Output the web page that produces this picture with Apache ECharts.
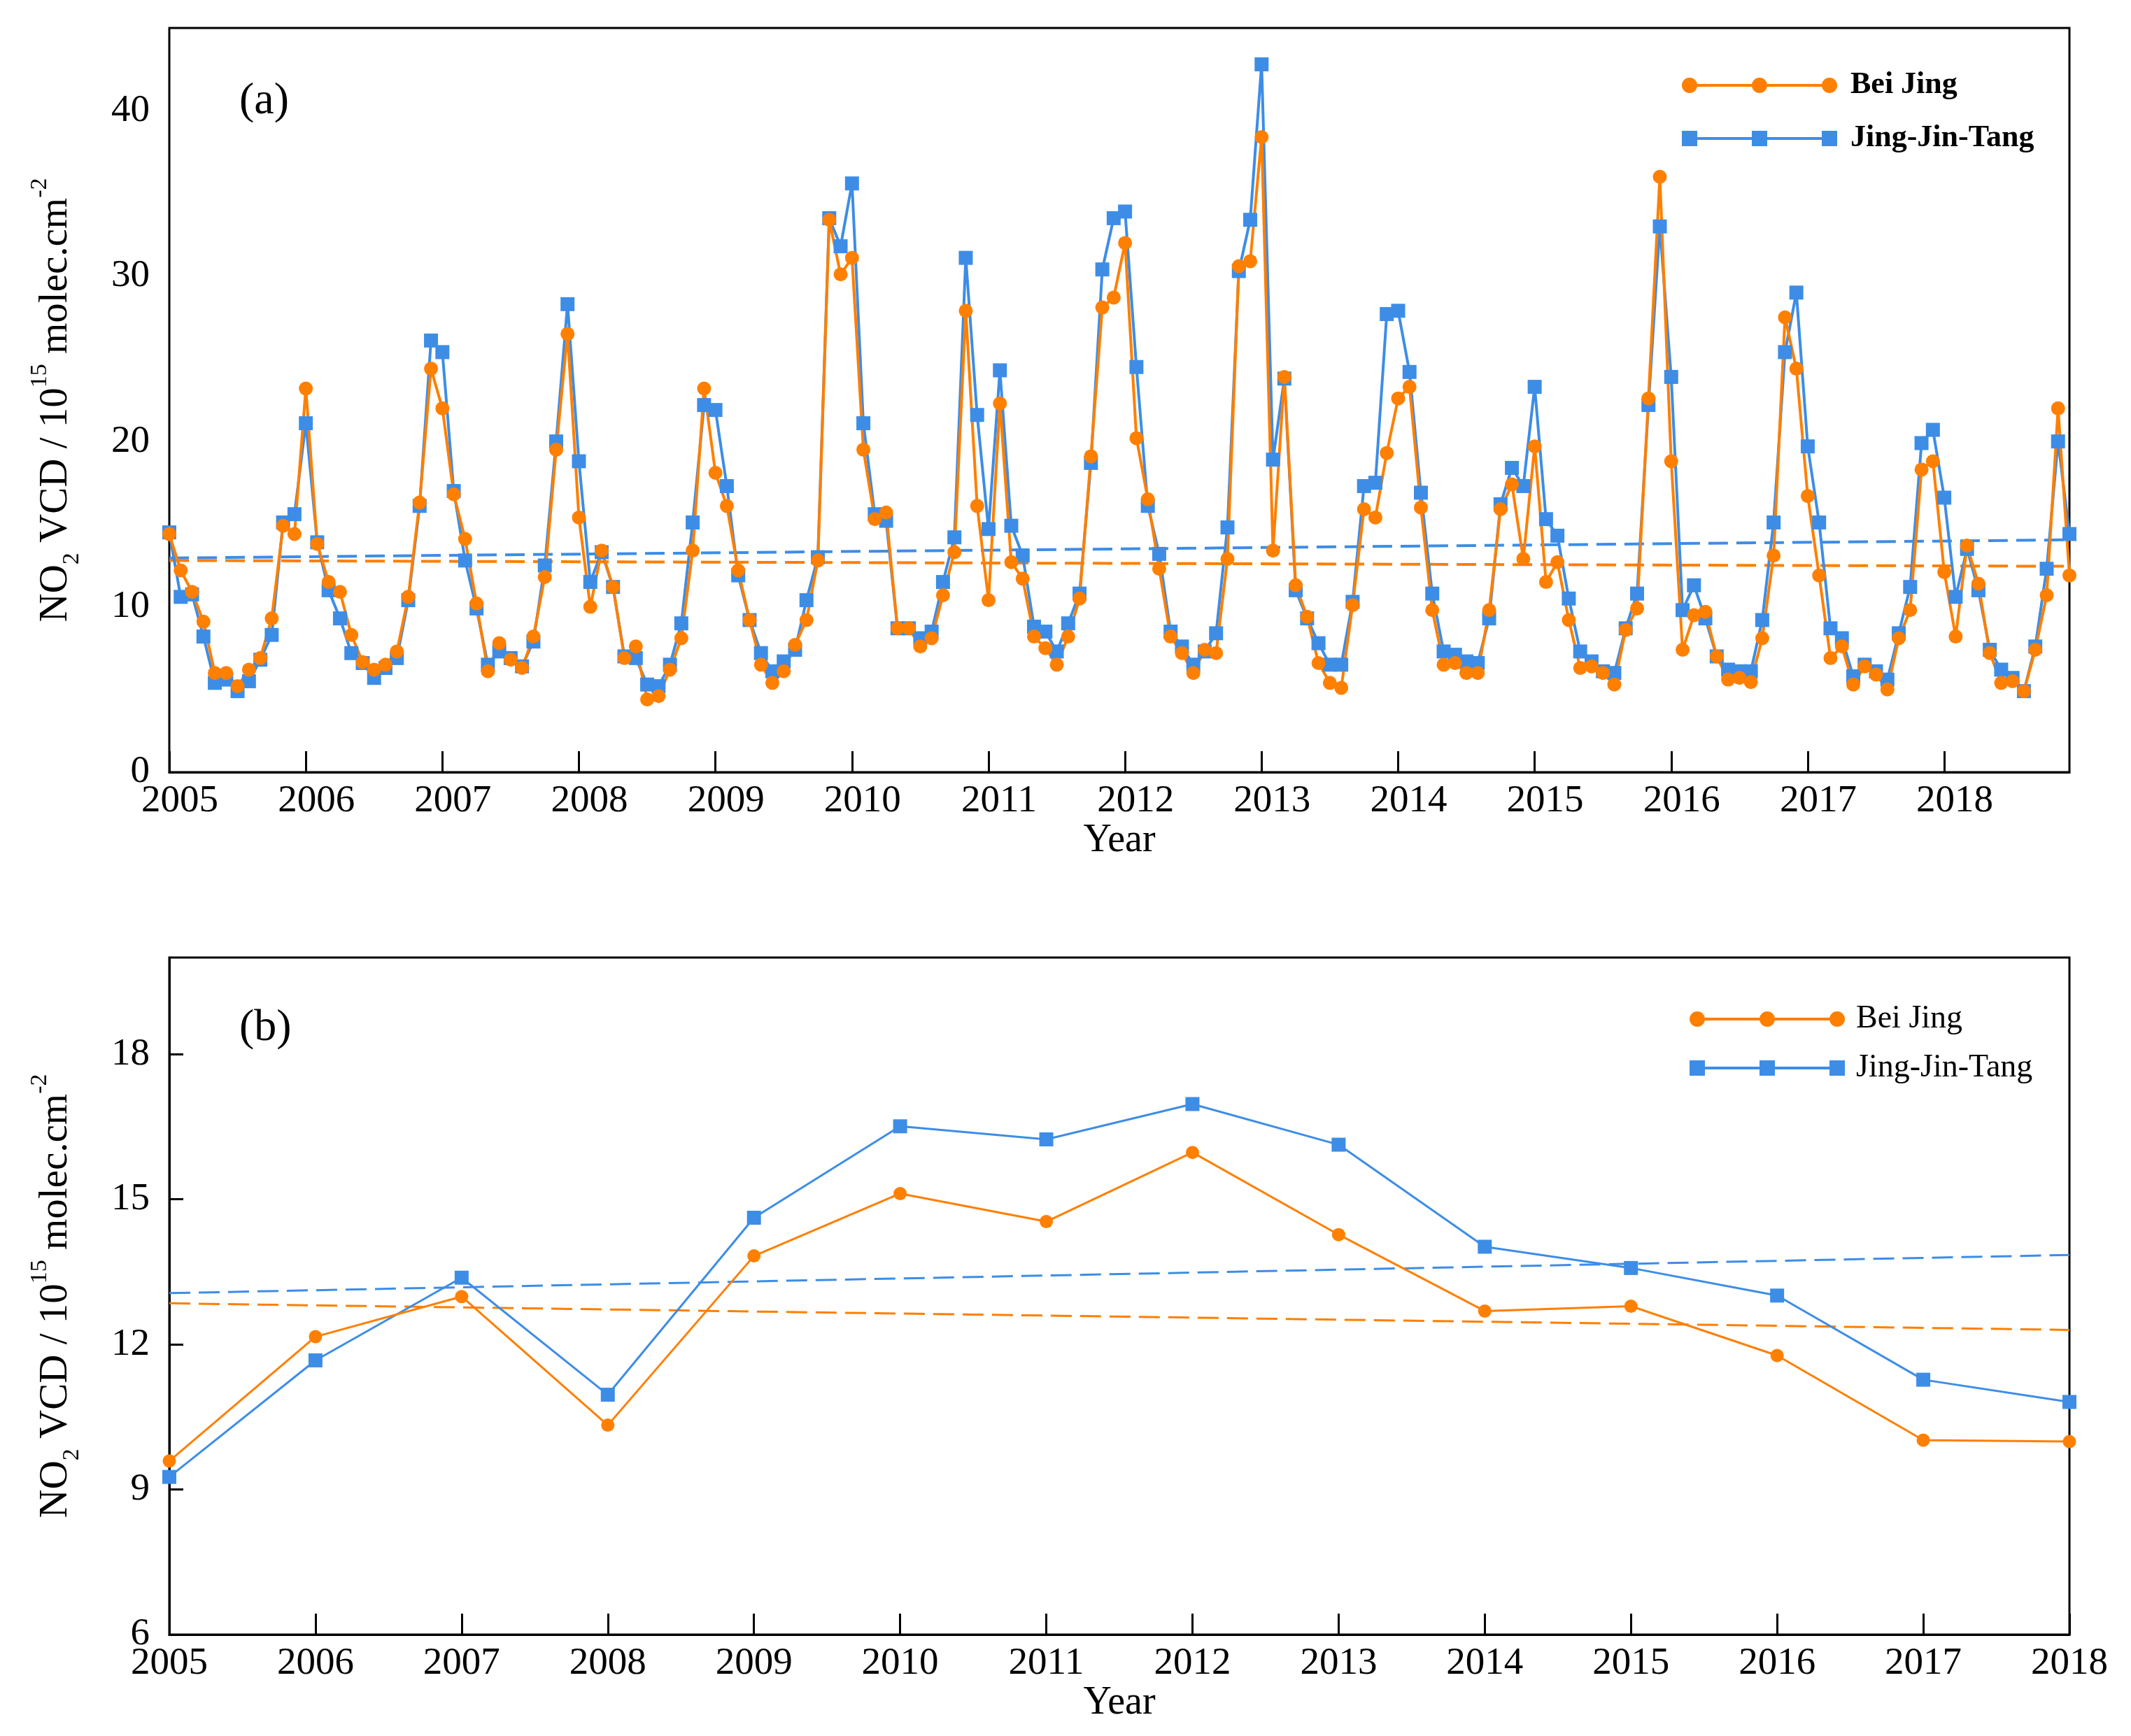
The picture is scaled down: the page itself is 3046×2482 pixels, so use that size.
<!DOCTYPE html>
<html>
<head>
<meta charset="utf-8">
<script src="https://cdn.jsdelivr.net/npm/echarts@6/dist/echarts.min.js"></script>
<style>
html,body{margin:0;padding:0;background:#fff;}
#chart{width:3046px;height:2482px;}
</style>
</head>
<body>
<div id="chart"></div>
<script>
// monthly NO2 VCD, Jan 2005 .. Dec 2018 (one row per year)
var years=[2005,2006,2007,2008,2009,2010,2011,2012,2013,2014,2015,2016,2017,2018];
var bjMonthly=[
    14.4,12.2,10.9,9.1,6.0,6.0,5.2,6.2,6.9,9.3,14.9,14.4,
    23.2,13.8,11.5,10.9,8.3,6.65,6.2,6.5,7.3,10.6,16.3,24.4,
    22.0,16.8,14.1,10.2,6.1,7.8,6.8,6.3,8.2,11.8,19.5,26.5,
    15.4,10.0,13.4,11.2,6.9,7.6,4.4,4.6,6.2,8.1,13.4,23.2,
    18.1,16.1,12.2,9.2,6.5,5.4,6.1,7.7,9.2,12.8,33.4,30.1,
    31.1,19.5,15.3,15.7,8.7,8.7,7.6,8.1,10.7,13.3,27.9,16.1,
    10.4,22.3,12.7,11.7,8.2,7.5,6.5,8.2,10.5,19.1,28.1,28.7,
    32.0,20.2,16.5,12.3,8.2,7.2,6.0,7.4,7.2,12.9,30.6,30.9,
    38.4,13.4,23.9,11.3,9.4,6.6,5.4,5.1,10.1,15.9,15.4,19.3,
    22.6,23.3,16.0,9.8,6.5,6.6,6.0,6.0,9.8,15.9,17.4,12.9,
    19.7,11.5,12.7,9.2,6.3,6.4,6.0,5.3,8.6,9.9,22.6,36.0,
    18.8,7.4,9.5,9.7,7.0,5.6,5.7,5.45,8.1,13.1,27.5,24.4,
    16.7,11.9,6.9,7.6,5.3,6.4,5.9,5.0,8.1,9.8,18.3,18.8,
    12.1,8.2,13.7,11.4,7.2,5.4,5.5,4.9,7.4,10.7,22.0,11.9
];
var jjtMonthly=[
    14.5,10.6,10.75,8.2,5.4,5.6,4.9,5.5,6.8,8.3,15.1,15.6,
    21.1,13.9,11.0,9.3,7.2,6.6,5.7,6.3,6.9,10.4,16.1,26.1,
    25.4,17.0,12.8,9.9,6.5,7.3,6.9,6.4,7.9,12.5,20.0,28.3,
    18.8,11.5,13.3,11.2,7.0,6.9,5.3,5.2,6.5,9.0,15.1,22.2,
    21.9,17.3,11.9,9.2,7.2,6.1,6.7,7.4,10.4,13.0,33.5,31.8,
    35.6,21.1,15.6,15.2,8.7,8.7,8.1,8.5,11.5,14.2,31.1,21.6,
    14.7,24.3,14.9,13.1,8.8,8.5,7.3,9.0,10.8,18.7,30.4,33.5,
    33.9,24.5,16.1,13.2,8.5,7.6,6.5,7.3,8.4,14.8,30.3,33.4,
    42.8,18.9,23.8,11.0,9.3,7.8,6.5,6.5,10.3,17.3,17.5,27.7,
    27.9,24.2,16.9,10.8,7.3,7.1,6.7,6.6,9.3,16.2,18.4,17.3,
    23.3,15.3,14.3,10.5,7.3,6.7,6.1,6.0,8.7,10.8,22.2,33.0,
    23.9,9.8,11.3,9.3,7.0,6.2,6.1,6.1,9.2,15.1,25.4,29.0,
    19.7,15.1,8.7,8.1,5.8,6.5,6.1,5.6,8.4,11.2,19.9,20.7,
    16.6,10.6,13.5,11.0,7.4,6.2,5.7,4.9,7.6,12.3,20.0,14.4
];
// annual means (panel b)
var bjAnnual=[9.59,12.16,12.99,10.33,13.83,15.12,14.54,15.97,14.27,12.69,12.79,11.77,10.02,9.99];
var jjtAnnual=[9.26,11.67,13.38,10.96,14.62,16.51,16.24,16.97,16.13,14.02,13.58,13.01,11.27,10.81];
// dashed trend lines, value at first / last point
var bjTrendA=[12.8,12.45];
var jjtTrendA=[12.95,14.05];
var bjTrendB=[12.85,12.30];
var jjtTrendB=[13.06,13.85];

var ORANGE="#ff7f00";
var BLUE="#3d8de6";
var FONT="Liberation Serif";

var months=[];
years.forEach(function (y) {
    for(var m=1;m<=12;m++){months.push(y+"-"+(m<10?"0"+m:m));}
});
var firstM=months[0],lastM=months[months.length-1];
var pairs=function (xs,vs) {return vs.map(function (v,i) {return [xs[i],v];});};

// legend icons: three markers joined by a line (all sub-paths clockwise so nothing cancels)
var circ=function (cx,r) {return "M"+(cx-r)+" 11a"+r+" "+r+" 0 1 1 "+(2*r)+" 0a"+r+" "+r+" 0 1 1 "+(-2*r)+" 0Z";};
var sq=function (cx,r) {return "M"+(cx-r)+" "+(11-r)+"h"+(2*r)+"v"+(2*r)+"h"+(-2*r)+"Z";};
var bar="M11 9H211V13H11Z";
var iconCircle="path://"+circ(11,11)+circ(111,11)+circ(211,11)+bar;
var iconSquare="path://"+sq(11,11)+sq(111,11)+sq(211,11)+bar;

var yName="{n|NO}{sub|2}{n| VCD / 10}{sup|15}{n| molec.cm}{sup|-2}";
var nameStyle={
    color:"#000",fontFamily:FONT,fontSize:57,
    rich:{
        n:{fontFamily:FONT,fontSize:57,lineHeight:80,color:"#000"},
        sub:{fontFamily:FONT,fontSize:34,verticalAlign:"bottom",color:"#000"},
        sup:{fontFamily:FONT,fontSize:34,verticalAlign:"top",color:"#000"}
    }
};
var axLine={lineStyle:{color:"#000",width:3}};
var lbl={color:"#000",fontFamily:FONT,fontSize:55};

var chart=echarts.init(document.getElementById("chart"),null,{renderer:"canvas",devicePixelRatio:1});
var option={
    backgroundColor:"#fff",
    animation:false,
    title:[
        {text:"(a)",left:337,top:108,textStyle:{fontFamily:FONT,fontSize:64,fontWeight:"normal",color:"#000"}},
        {text:"(b)",left:337,top:1433,textStyle:{fontFamily:FONT,fontSize:64,fontWeight:"normal",color:"#000"}}
    ],
    legend:[
        {orient:"vertical",left:2399,top:92,itemWidth:222,itemHeight:22,itemGap:26,
            textStyle:{fontFamily:FONT,fontSize:44,fontWeight:"bold",color:"#000",lineHeight:50,padding:[0,0,0,14]},
            data:[{name:"Bei Jing",icon:iconCircle},{name:"Jing-Jin-Tang",icon:iconSquare}]},
        {orient:"vertical",left:2410,top:1427,itemWidth:222,itemHeight:22,itemGap:20,
            textStyle:{fontFamily:FONT,fontSize:46,color:"#000",lineHeight:50,padding:[0,0,0,11]},
            data:[{name:"Bei Jing",icon:iconCircle},{name:"Jing-Jin-Tang",icon:iconSquare}]}
    ],
    grid:[
        {left:242,right:88,top:40,height:1064,show:true,borderColor:"#000",borderWidth:3,containLabel:false},
        {left:242,right:88,top:1369,height:968,show:true,borderColor:"#000",borderWidth:3,containLabel:false}
    ],
    xAxis:[
        {type:"category",gridIndex:0,data:months,boundaryGap:false,
            name:"Year",nameLocation:"middle",nameGap:70,
            nameTextStyle:{fontFamily:FONT,fontSize:56,color:"#000"},
            axisLine:axLine,
            axisTick:{inside:true,length:30,lineStyle:{color:"#000",width:3},
                interval:function (i) {return i%12===0;}},
            axisLabel:Object.assign({},lbl,{margin:14,padding:[0,0,0,30],
                interval:function (i) {return i%12===0;},
                formatter:function (v) {return v.slice(0,4);}}),
            splitLine:{show:false}},
        {type:"value",gridIndex:1,min:2005,max:2018,interval:1,
            name:"Year",nameLocation:"middle",nameGap:70,
            nameTextStyle:{fontFamily:FONT,fontSize:56,color:"#000"},
            axisLine:axLine,
            axisTick:{inside:true,length:30,lineStyle:{color:"#000",width:3}},
            axisLabel:Object.assign({},lbl,{margin:14,formatter:function (v) {return String(v);}}),
            splitLine:{show:false}}
    ],
    yAxis:[
        {type:"value",gridIndex:0,min:0,max:45,interval:10,
            name:yName,nameLocation:"middle",nameGap:122,nameTextStyle:nameStyle,
            axisLine:axLine,
            axisTick:{inside:true,length:20,lineStyle:{color:"#000",width:3}},
            axisLabel:Object.assign({},lbl,{margin:28,showMaxLabel:false}),
            splitLine:{show:false}},
        {type:"value",gridIndex:1,min:6,max:20,interval:3,
            name:yName,nameLocation:"middle",nameGap:122,nameTextStyle:nameStyle,
            axisLine:axLine,
            axisTick:{inside:true,length:20,lineStyle:{color:"#000",width:3}},
            axisLabel:Object.assign({},lbl,{margin:28,showMaxLabel:false}),
            splitLine:{show:false}}
    ],
    series:[
        {name:"Bei Jing trend a",type:"line",xAxisIndex:0,yAxisIndex:0,symbol:"none",silent:true,
            lineStyle:{color:ORANGE,width:4,type:[28,12]},data:[[firstM,bjTrendA[0]],[lastM,bjTrendA[1]]]},
        {name:"Jing-Jin-Tang trend a",type:"line",xAxisIndex:0,yAxisIndex:0,symbol:"none",silent:true,
            lineStyle:{color:BLUE,width:4,type:[28,12]},data:[[firstM,jjtTrendA[0]],[lastM,jjtTrendA[1]]]},
        {name:"Jing-Jin-Tang",type:"line",xAxisIndex:0,yAxisIndex:0,symbol:"rect",symbolSize:20,showAllSymbol:true,
            color:BLUE,lineStyle:{color:BLUE,width:4},itemStyle:{color:BLUE},data:pairs(months,jjtMonthly)},
        {name:"Bei Jing",type:"line",xAxisIndex:0,yAxisIndex:0,symbol:"circle",symbolSize:20,showAllSymbol:true,
            color:ORANGE,lineStyle:{color:ORANGE,width:4},itemStyle:{color:ORANGE},data:pairs(months,bjMonthly)},

        {name:"Bei Jing trend b",type:"line",xAxisIndex:1,yAxisIndex:1,symbol:"none",silent:true,
            lineStyle:{color:ORANGE,width:3,type:[30,12]},
            data:[[years[0],bjTrendB[0]],[years[years.length-1],bjTrendB[1]]]},
        {name:"Jing-Jin-Tang trend b",type:"line",xAxisIndex:1,yAxisIndex:1,symbol:"none",silent:true,
            lineStyle:{color:BLUE,width:3,type:[30,12]},
            data:[[years[0],jjtTrendB[0]],[years[years.length-1],jjtTrendB[1]]]},
        {name:"Jing-Jin-Tang",type:"line",xAxisIndex:1,yAxisIndex:1,symbol:"rect",symbolSize:20,
            color:BLUE,lineStyle:{color:BLUE,width:3},itemStyle:{color:BLUE},data:pairs(years,jjtAnnual)},
        {name:"Bei Jing",type:"line",xAxisIndex:1,yAxisIndex:1,symbol:"circle",symbolSize:19,
            color:ORANGE,lineStyle:{color:ORANGE,width:3},itemStyle:{color:ORANGE},data:pairs(years,bjAnnual)}
    ]
};
chart.setOption(option);
</script>
</body>
</html>
